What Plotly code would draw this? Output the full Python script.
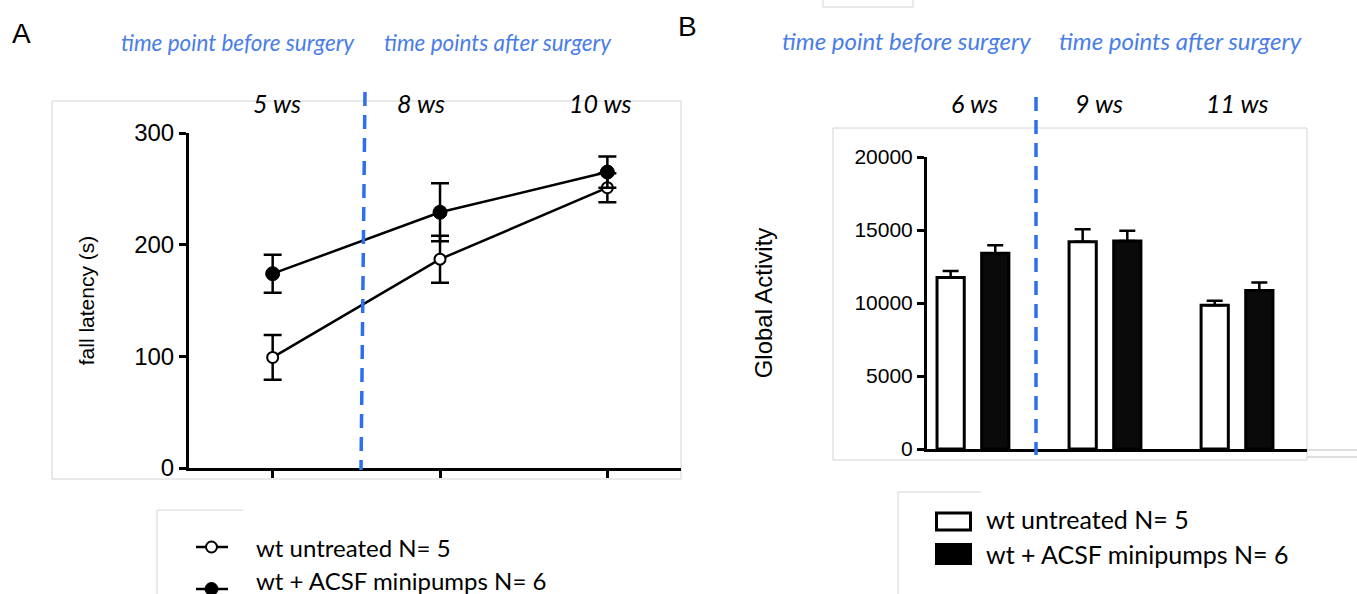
import plotly.graph_objects as go

W, H = 1357, 594

# ---------------- data ----------------
weeks_A = ["5 ws", "8 ws", "10 ws"]
untreated_A = [99, 187, 251]
untreated_A_err = [20, 21, 13]
acsf_A = [174, 229, 265]
acsf_A_err = [17, 26, 14]

weeks_B = ["6 ws", "9 ws", "11 ws"]
untreated_B = [11750, 14200, 9850]
untreated_B_err = [450, 850, 300]
acsf_B = [13400, 14250, 10850]
acsf_B_err = [550, 700, 550]

series_names = ["wt untreated N= 5", "wt + ACSF minipumps N= 6"]
yticks_A = [0, 100, 200, 300]
yticks_B = [0, 5000, 10000, 15000, 20000]


def X(px):
    return px / W


def Y(py):
    return 1 - py / H


BLUE_LINE = "#2d6ff0"
BLUE_TEXT = "#4a7ee6"
GRAY = "#d4d4d4"
TXT_FONT = "Lato"
NUM_FONT = "Liberation Sans"

fig = go.Figure()

# ---------------- panel A ----------------
fig.add_trace(go.Scatter(
    x=weeks_A, y=untreated_A, name=series_names[0], mode="lines+markers",
    line=dict(color="black", width=2.5),
    marker=dict(symbol="circle", size=11, color="white", line=dict(color="black", width=2)),
    error_y=dict(type="data", array=untreated_A_err, visible=True, color="black", thickness=2.5, width=9),
    xaxis="x", yaxis="y", showlegend=False, cliponaxis=False))
fig.add_trace(go.Scatter(
    x=weeks_A, y=acsf_A, name=series_names[1], mode="lines+markers",
    line=dict(color="black", width=2.5),
    marker=dict(symbol="circle", size=14, color="black", line=dict(color="black", width=1)),
    error_y=dict(type="data", array=acsf_A_err, visible=True, color="black", thickness=2.5, width=9),
    xaxis="x", yaxis="y", showlegend=False, cliponaxis=False))

# ---------------- panel B ----------------
fig.add_trace(go.Bar(
    x=weeks_B, y=untreated_B, name=series_names[0],
    marker=dict(color="white", line=dict(color="black", width=3)),
    error_y=dict(type="data", symmetric=False, array=untreated_B_err, arrayminus=[0, 0, 0],
                 visible=True, color="black", thickness=2.5, width=8),
    xaxis="x2", yaxis="y2", showlegend=False))
fig.add_trace(go.Bar(
    x=weeks_B, y=acsf_B, name=series_names[1],
    marker=dict(color="#0a0a0a", line=dict(color="black", width=3)),
    error_y=dict(type="data", symmetric=False, array=acsf_B_err, arrayminus=[0, 0, 0],
                 visible=True, color="black", thickness=2.5, width=8),
    xaxis="x2", yaxis="y2", showlegend=False))

axis_common = dict(showgrid=False, zeroline=False, showline=True, linecolor="black",
                   linewidth=3, ticks="outside", tickcolor="black", tickwidth=2.5, ticklen=7,
                   automargin=False)

fig.update_layout(
    template="none",
    width=W, height=H, margin=dict(l=0, r=0, t=0, b=0, pad=0, autoexpand=False),
    paper_bgcolor="white", plot_bgcolor="rgba(0,0,0,0)",
    barmode="group", bargap=0.324, bargroupgap=0.39,
    xaxis=dict(domain=[X(189), X(681)], type="category", range=[-0.5, 2.44],
               showticklabels=False, anchor="y", **axis_common),
    yaxis=dict(domain=[Y(468), Y(133)], range=[0, 300], tickvals=yticks_A, tickformat="d",
               tickfont=dict(family=NUM_FONT, size=24, color="black"),
               title=dict(text="fall latency (s)", font=dict(family=NUM_FONT, size=21, color="black"), standoff=34),
               anchor="x", **axis_common),
    xaxis2=dict(domain=[X(927), X(1307)], type="category", range=[-0.348, 2.53],
                showticklabels=False, anchor="y2", showgrid=False, zeroline=False, showline=True,
                linecolor="black", linewidth=3, ticks="", automargin=False),
    yaxis2=dict(domain=[Y(449), Y(157)], range=[0, 20000], tickvals=yticks_B, tickformat="d",
                tickfont=dict(family=NUM_FONT, size=21, color="black"),
                title=dict(text="Global Activity", font=dict(family=NUM_FONT, size=24, color="black"), standoff=75),
                anchor="x2", **axis_common),
)

shapes = []
# panel frames
shapes.append(dict(type="rect", xref="paper", yref="paper", x0=X(52), x1=X(681), y0=Y(479), y1=Y(101),
                   line=dict(color=GRAY, width=1), layer="below"))
shapes.append(dict(type="rect", xref="paper", yref="paper", x0=X(833), x1=X(1307), y0=Y(460), y1=Y(128),
                   line=dict(color=GRAY, width=1), layer="below"))
for yy in (450, 457):
    shapes.append(dict(type="line", xref="paper", yref="paper", x0=X(1307), x1=X(1357), y0=Y(yy), y1=Y(yy),
                       line=dict(color=GRAY, width=1.5), layer="below"))
# small box at top of panel B
shapes.append(dict(type="rect", xref="paper", yref="paper", x0=X(823), x1=X(913), y0=Y(7), y1=Y(-5),
                   line=dict(color=GRAY, width=1), layer="below"))
# legend frames (top + left edges)
for (lx, rx, ty) in ((157, 243, 510), (898, 981, 492)):
    shapes.append(dict(type="line", xref="paper", yref="paper", x0=X(lx), x1=X(rx), y0=Y(ty), y1=Y(ty),
                       line=dict(color=GRAY, width=1)))
    shapes.append(dict(type="line", xref="paper", yref="paper", x0=X(lx), x1=X(lx), y0=Y(ty), y1=0,
                       line=dict(color=GRAY, width=1)))
# surgery dividers
shapes.append(dict(type="line", xref="paper", yref="paper", x0=X(365), x1=X(361), y0=Y(92), y1=Y(470),
                   line=dict(color=BLUE_LINE, width=3.5, dash="14px,9px")))
shapes.append(dict(type="line", xref="paper", yref="paper", x0=X(1036), x1=X(1036), y0=Y(97), y1=Y(455),
                   line=dict(color=BLUE_LINE, width=3.5, dash="14px,9px")))

# legend A symbols
shapes.append(dict(type="line", xref="paper", yref="paper", x0=X(196), x1=X(228), y0=Y(547), y1=Y(547),
                   line=dict(color="black", width=2.5)))
shapes.append(dict(type="circle", xref="paper", yref="paper", x0=X(206), x1=X(217), y0=Y(552.5), y1=Y(541.5),
                   line=dict(color="black", width=2), fillcolor="white"))
shapes.append(dict(type="line", xref="paper", yref="paper", x0=X(196), x1=X(228), y0=Y(589), y1=Y(589),
                   line=dict(color="black", width=2.5)))
shapes.append(dict(type="circle", xref="paper", yref="paper", x0=X(205), x1=X(218), y0=Y(595.5), y1=Y(582.5),
                   line=dict(color="black", width=1), fillcolor="black"))
# legend B symbols
shapes.append(dict(type="rect", xref="paper", yref="paper", x0=X(936.5), x1=X(970.5), y0=Y(530), y1=Y(513),
                   line=dict(color="black", width=3), fillcolor="white"))
shapes.append(dict(type="rect", xref="paper", yref="paper", x0=X(935), x1=X(972), y0=Y(565), y1=Y(543),
                   line=dict(color="black", width=0), fillcolor="black"))
fig.update_layout(shapes=shapes)

ann = []


def text(px, py, s, size, color="black", family=TXT_FONT, italic=False, xanchor="center"):
    ann.append(dict(xref="paper", yref="paper", x=X(px), y=Y(py), text=s, showarrow=False,
                    xanchor=xanchor, yanchor="middle",
                    font=dict(family=family, size=size, color=color, style="italic" if italic else "normal")))


text(21, 33, "A", 28, family=NUM_FONT)
text(687, 27, "B", 28, family=NUM_FONT)
text(238, 42, "time point before surgery", 22.5, BLUE_TEXT, italic=True)
text(498, 42, "time points after surgery", 22.5, BLUE_TEXT, italic=True)
text(906, 40, "time point before surgery", 24, BLUE_TEXT, italic=True)
text(1180, 40, "time points after surgery", 24, BLUE_TEXT, italic=True)
for px, s in zip((277, 421, 600), weeks_A):
    text(px, 103, s, 25, italic=True)
for px, s in zip((974, 1099, 1237), weeks_B):
    text(px, 103, s, 25, italic=True)
text(254, 547, series_names[0], 24, xanchor="left")
text(254, 580, series_names[1], 24, xanchor="left")
text(984, 519, series_names[0], 25, xanchor="left")
text(984, 554, series_names[1], 25, xanchor="left")
fig.update_layout(annotations=ann)

fig.write_html("out.html")
